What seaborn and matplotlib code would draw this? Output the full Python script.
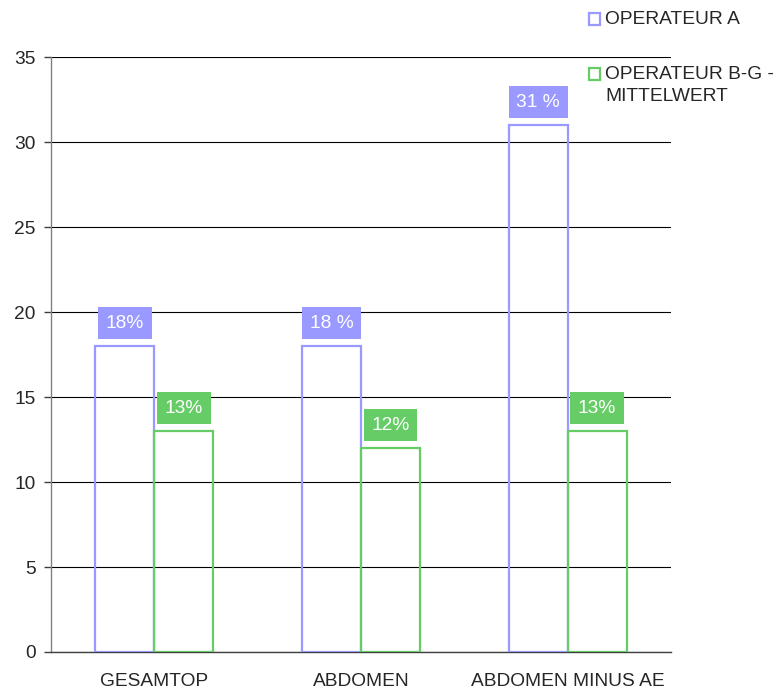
import matplotlib
matplotlib.use("Agg")
import matplotlib.pyplot as plt
from matplotlib.patches import Rectangle
import seaborn as sns
import pandas as pd

categories = ["GESAMTOP", "ABDOMEN", "ABDOMEN MINUS AE"]
series_names = ["OPERATEUR A", "OPERATEUR B-G -\nMITTELWERT"]
values_a = [18, 18, 31]
values_bg = [13, 12, 13]
labels_a = ["18%", "18 %", "31 %"]
labels_bg = ["13%", "12%", "13%"]
colors = ["#9999FF", "#66CC66"]
yticks = [0, 5, 10, 15, 20, 25, 30, 35]

df = pd.DataFrame({
    "cat": categories * 2,
    "series": [series_names[0]] * 3 + [series_names[1]] * 3,
    "value": values_a + values_bg,
    "label": labels_a + labels_bg,
})

sns.set_style("white")
plt.rcParams["font.family"] = ["Liberation Sans", "DejaVu Sans"]
FS = 13.8

fig = plt.figure(figsize=(7.83, 6.91), dpi=100)
ax = fig.add_axes([51 / 783, 1 - 652 / 691, 620 / 783, 595 / 691])

sns.barplot(data=df, x="cat", y="value", hue="series", order=categories,
            hue_order=series_names, palette=colors, fill=False, width=0.57,
            linewidth=1.6, dodge=True, legend=False, ax=ax, zorder=3)

ax.set_ylim(0, 35)
ax.set_xlim(-0.5, 2.5)
ax.set_yticks(yticks)
ax.set_yticklabels([str(t) for t in yticks], fontsize=FS)
ax.set_xlabel("")
ax.set_ylabel("")
ax.yaxis.grid(True, color="black", linewidth=0.8, zorder=0)
ax.xaxis.grid(False)
ax.set_axisbelow(True)

ax.set_xticks(range(len(categories)))
ax.set_xticklabels(categories, fontsize=FS)
ax.set_xticks([-0.5, 0.5, 1.5, 2.5], minor=True)
ax.tick_params(axis="x", which="major", length=0, pad=15)
ax.tick_params(axis="x", which="minor", length=5, width=1, color="#404040", direction="out")
ax.tick_params(axis="y", length=5, width=1, color="#404040", direction="out", pad=6, left=True)

for s in ["top", "right"]:
    ax.spines[s].set_visible(False)
ax.spines["left"].set_color("#808080")
ax.spines["bottom"].set_color("#404040")
ax.spines["left"].set_linewidth(1)
ax.spines["bottom"].set_linewidth(1)

# value labels in coloured boxes
for container, labs, col in zip(ax.containers, [labels_a, labels_bg], colors):
    for bar, lab in zip(container, labs):
        x = bar.get_x() + bar.get_width() / 2
        h = bar.get_height()
        ax.annotate(lab, xy=(x, h), xytext=(0, 16.5), textcoords="offset points",
                    ha="center", va="center", color="white", fontsize=FS,
                    bbox=dict(boxstyle="square,pad=0.4", fc=col, ec="none"),
                    zorder=5)

# legend (drawn as figure text with square markers)
leg_y = [1 - 19 / 691, 1 - 74 / 691]
for name, col, yy in zip(series_names, colors, leg_y):
    fig.patches.append(Rectangle((589 / 783, yy - 5.5 / 691), 11 / 783, 11 / 691,
                                 transform=fig.transFigure, fill=False,
                                 edgecolor=col, linewidth=1.6))
    fig.text(605 / 783, yy + 8 / 691, name, ha="left", va="top", fontsize=FS,
             linespacing=1.35)

fig.savefig("out.png", dpi=100)
